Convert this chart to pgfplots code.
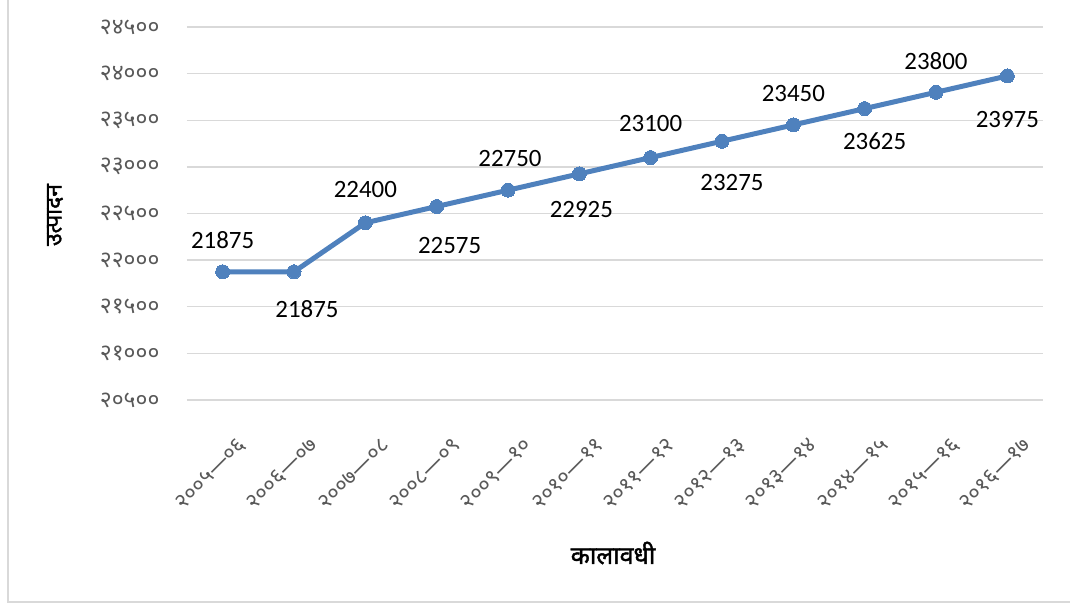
\documentclass[border=0pt]{standalone}
\usepackage{pgfplots}
\pgfplotsset{compat=1.18}
\usepackage{pgfplotstable}
\usepackage{fontspec}
\setmainfont{Carlito}
\newfontfamily\deva[Script=Devanagari]{Noto Sans}
\newfontfamily\devab[Script=Devanagari,FakeBold=1.6]{Noto Sans}
\definecolor{lineblue}{HTML}{4F81BD}
\definecolor{gridgray}{HTML}{D9D9D9}
\definecolor{ticktext}{HTML}{595959}

\pgfplotstableread{
x y dx dy lab
0 21875 0 32 21875
1 21875 13 -37 21875
2 22400 0 33 22400
3 22575 13 -39 22575
4 22750 2 32 22750
5 22925 2 -36 22925
6 23100 0 34 23100
7 23275 10 -41 23275
8 23450 0 31 23450
9 23625 10 -33 23625
10 23800 0 31 23800
11 23975 0 -44 23975
}\prod

\begin{document}
\begin{tikzpicture}
\path[use as bounding box] (-187bp,-204bp) rectangle (883bp,400bp);
\draw[gridgray, line width=1.5bp] (-179bp,400bp) -- (-179bp,-202bp) -- (883bp,-202bp);
\begin{axis}[
  at={(0,0)}, anchor=south west,
  scale only axis, width=856bp, height=373bp,
  xmin=-0.5, xmax=11.5, ymin=20500, ymax=24500,
  scaled y ticks=false,
  axis line style={draw=none},
  major tick length=0pt,
  ymajorgrids, major grid style={gridgray, line width=1.3bp},
  ytick={20500,21000,21500,22000,22500,23000,23500,24000,24500},
  yticklabels={२०५००,२१०००,२१५००,२२०००,२२५००,२३०००,२३५००,२४०००,२४५००},
  yticklabel style={font=\deva\fontsize{23}{25}\selectfont, text=ticktext, anchor=east, xshift=-24bp},
  xtick={0,...,11},
  xticklabels={२००५—०६,२००६—०७,२००७—०८,२००८—०९,२००९—१०,२०१०—११,२०११—१२,२०१२—१३,२०१३—१४,२०१४—१५,२०१५—१६,२०१६—१७},
  xticklabel style={font=\deva\fontsize{22}{24}\selectfont, text=ticktext, rotate=45, anchor=east, yshift=-44bp, xshift=-12bp},
  clip=false,
]
\addplot[lineblue, line width=5bp, mark=*, mark size=7bp, mark options={fill=lineblue, draw=lineblue, line width=0pt},
  point meta=explicit symbolic,
  visualization depends on={\thisrow{dx} \as \dx},
  visualization depends on={\thisrow{dy} \as \dy},
  nodes near coords,
  nodes near coords style={anchor=center, xshift=\dx bp, yshift=\dy bp, font=\fontsize{25}{28}\selectfont, text=black},
] table[x=x, y=y, meta=lab] {\prod};
\end{axis}
\node[rotate=90, font=\devab\fontsize{23}{26}\selectfont] at (-132bp,185bp) {उत्पादन};
\node[font=\devab\fontsize{25}{28}\selectfont] at (426bp,-153bp) {कालावधी};
\end{tikzpicture}
\end{document}
